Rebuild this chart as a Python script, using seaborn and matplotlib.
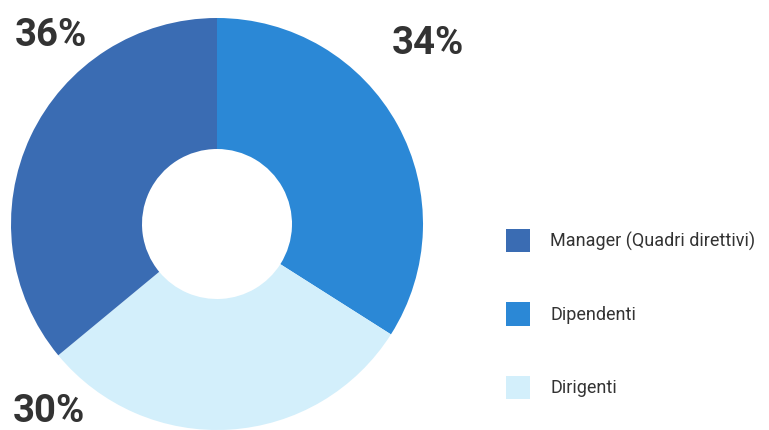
import matplotlib
matplotlib.use("Agg")
import matplotlib.pyplot as plt
import matplotlib.patches as mpatches
import seaborn as sns

# Ripartizione per ruolo (percentuali)
categories = ["Dipendenti", "Dirigenti", "Manager (Quadri direttivi)"]
values = [34, 30, 36]
colors = ["#2b88d6", "#d3effb", "#3a6cb3"]
legend_order = ["Manager (Quadri direttivi)", "Dipendenti", "Dirigenti"]

sns.set_theme(style="white")
plt.rcParams["font.family"] = ["Roboto", "DejaVu Sans"]

W, H = 769, 430
fig = plt.figure(figsize=(W / 100, H / 100), dpi=100)
fig.patch.set_facecolor("white")

# Donut: centre ~ (217, 224) px, outer radius ~206 px, hole radius ~75 px
cx, cy, r = 217, 224, 206
ax = fig.add_axes([(cx - r) / W, (H - cy - r) / H, 2 * r / W, 2 * r / H])
ax.pie(values, colors=colors, startangle=90, counterclock=False,
       radius=1.0, wedgeprops=dict(width=1 - 75 / 206, linewidth=0))
ax.set_xlim(-1, 1)
ax.set_ylim(-1, 1)
ax.set_aspect("equal")
ax.axis("off")

# Percentage labels
label_pos = {"Manager (Quadri direttivi)": (51, 35),
             "Dipendenti": (428, 43),
             "Dirigenti": (49, 412)}
for cat, val in zip(categories, values):
    x, y = label_pos[cat]
    fig.text(x / W, 1 - y / H, f"{val}%", ha="center", va="center",
             fontsize=27.5, fontweight="bold", color="#333333")

# Legend
handles = [mpatches.Patch(facecolor=colors[categories.index(c)], edgecolor="none", label=c)
           for c in legend_order]
fig.legend(handles=handles, loc="center left", bbox_to_anchor=(490 / W, 1 - 314 / H),
           frameon=False, fontsize=13, handlelength=1.3, handleheight=1.65,
           labelspacing=2.75, handletextpad=1.15, labelcolor="#333333")

fig.savefig("out.png", dpi=100, facecolor="white")
